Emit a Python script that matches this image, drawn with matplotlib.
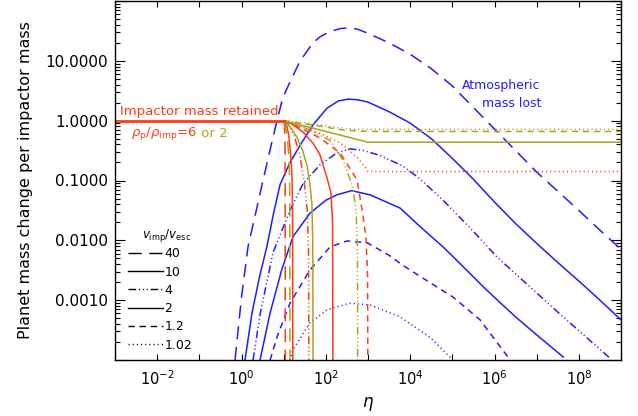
import numpy as np
import matplotlib
matplotlib.use("Agg")
import matplotlib.pyplot as plt
from matplotlib.lines import Line2D
from matplotlib.ticker import FixedLocator, FuncFormatter, LogLocator, NullLocator

plt.rcParams["lines.scale_dashes"] = False

BLUE = "#1e1eff"
RED = "#ff3a14"
OLIVE = "#a9a41e"

# impact velocity in units of escape velocity, one line style each
v_ratio = ["40", "10", "4", "2", "1.2", "1.02"]
styles = [(0, (9.5, 5.5)), "-", (0, (5.5, 2, 0.8, 2, 0.8, 2, 0.8, 2)), "-",
          (0, (4.5, 3.5)), (0, (0.8, 2.2))]

# atmospheric mass lost per impactor mass (blue), as log10(eta), log10(value)
atm_logeta = [
    [-0.154, 0.0, 0.154, 0.35, 0.51, 0.68, 0.842, 0.984, 1.2, 1.39, 1.695, 1.86, 2.1,
     2.35, 2.525, 2.75, 3.0, 3.25, 3.5, 4.0, 4.5, 5.0, 5.5, 6.0, 6.5, 7.0, 7.5, 8.0,
     8.5, 9.0],
    [0.083, 0.25, 0.43, 0.60, 0.76, 0.913, 1.15, 1.39, 1.695, 2.03, 2.3, 2.525, 2.75,
     3.0, 3.5, 4.0, 4.5, 5.0, 5.5, 6.0, 6.5, 7.0, 7.5, 8.0, 8.5, 9.0],
    [0.273, 0.45, 0.75, 1.15, 1.46, 1.86, 2.26, 2.57, 2.9, 3.28, 3.83, 4.23, 4.78,
     5.5, 6.06, 6.5, 7.0, 7.55, 8.0, 8.74],
    [0.44, 0.676, 0.95, 1.22, 1.62, 2.0, 2.26, 2.61, 3.05, 3.76, 4.25, 4.78, 5.27,
     5.74, 6.07, 6.5, 7.0, 7.63],
    [0.68, 0.85, 1.15, 1.62, 2.10, 2.50, 2.98, 3.5, 3.83, 4.5, 5.02, 5.66, 6.37],
    [1.15, 1.22, 1.62, 2.03, 2.57, 3.05, 3.76, 4.47, 4.94, 5.0],
]
atm_logval = [
    [-4.0, -2.95, -2.11, -1.5, -1.0, -0.48, 0.0, 0.395, 0.72, 1.0, 1.30, 1.40, 1.49,
     1.54, 1.55, 1.53, 1.46, 1.38, 1.30, 1.11, 0.87, 0.58, 0.22, -0.14, -0.5, -0.86,
     -1.18, -1.5, -1.83, -2.15],
    [-4.0, -3.21, -2.6, -2.11, -1.55, -1.07, -0.7, -0.41, -0.07, 0.21, 0.33, 0.36,
     0.35, 0.31, 0.15, -0.04, -0.3, -0.63, -0.98, -1.36, -1.72, -2.05, -2.37, -2.68,
     -3.0, -3.33],
    [-4.0, -3.2, -2.2, -1.5, -1.05, -0.74, -0.54, -0.47, -0.5, -0.58, -0.76, -0.97,
     -1.33, -1.85, -2.28, -2.56, -2.88, -3.23, -3.51, -3.97],
    [-4.0, -3.22, -2.5, -1.94, -1.55, -1.33, -1.24, -1.17, -1.24, -1.46, -1.78, -2.11,
     -2.45, -2.78, -3.0, -3.28, -3.58, -3.95],
    [-4.0, -3.6, -3.05, -2.50, -2.11, -2.01, -2.04, -2.25, -2.42, -2.72, -2.95, -3.33,
     -4.0],
    [-4.0, -3.83, -3.38, -3.16, -3.05, -3.08, -3.28, -3.62, -3.95, -4.0],
]

# impactor mass retained up to the junction at eta = 10
retained_eta = [1e-3, 10]
retained_val = [1.0, 1.0]

# impactor mass retained beyond the junction, rho_p/rho_imp = 6 (red)
red_logeta = [
    [1.0, 1.02, 1.03, 1.035, 1.04],
    [1.0, 1.08, 1.12, 1.15, 1.18, 1.2, 1.21, 1.22],
    [1.0, 1.1, 1.25, 1.39, 1.5, 1.56, 1.59, 1.6],
    [1.0, 1.2, 1.46, 1.7, 1.86, 2.03, 2.12, 2.16, 2.17],
    [1.0, 1.4, 1.86, 2.34, 2.74, 2.86, 2.95, 2.99, 3.0],
    [1.0, 1.4, 1.86, 2.34, 2.74, 2.98, 3.0, 9.0],
]
red_logval = [
    [0.0, -0.08, -0.3, -1.0, -5.0],
    [0.0, -0.1, -0.25, -0.46, -0.7, -0.99, -1.5, -5.0],
    [0.0, -0.05, -0.25, -0.6, -1.1, -1.5, -2.2, -5.0],
    [0.0, -0.06, -0.19, -0.38, -0.57, -0.96, -1.2, -1.7, -5.0],
    [0.0, -0.12, -0.29, -0.54, -0.99, -1.49, -1.94, -2.6, -5.0],
    [0.0, -0.1, -0.21, -0.37, -0.61, -0.82, -0.85, -0.85],
]

# impactor mass retained beyond the junction, rho_p/rho_imp = 2 (olive)
olive_logeta = [
    [1.0, 1.08, 1.13, 1.145, 1.15],
    [1.0, 1.15, 1.32, 1.45, 1.55, 1.62, 1.67, 1.69, 1.70],
    [1.0, 1.5, 2.10, 2.41, 2.64, 2.72, 2.75, 2.76],
    [1.0, 3.0, 9.0],
    [1.0, 1.86, 2.34, 2.8, 3.0, 9.0],
    [1.0, 1.86, 2.34, 2.7, 9.0],
]
olive_logval = [
    [0.0, -0.22, -0.66, -1.2, -5.0],
    [0.0, -0.1, -0.28, -0.5, -0.74, -1.04, -1.4, -2.0, -5.0],
    [0.0, -0.12, -0.33, -0.66, -1.11, -1.54, -2.2, -5.0],
    [0.0, -0.36, -0.36],
    [0.0, -0.09, -0.15, -0.175, -0.18, -0.18],
    [0.0, -0.07, -0.12, -0.145, -0.145],
]

fig = plt.figure(figsize=(6.38, 4.16), dpi=100)
ax = fig.add_axes([115 / 638, 56 / 416, 506 / 638, 359 / 416])
ax.set_xscale("log")
ax.set_yscale("log")


def draw(logeta, logval, color):
    for le, lv, ls in zip(logeta, logval, styles):
        ax.plot(np.power(10.0, le), np.power(10.0, lv), color=color, ls=ls, lw=1.1)


draw(atm_logeta, atm_logval, BLUE)
draw(red_logeta, red_logval, RED)
draw(olive_logeta, olive_logval, OLIVE)
ax.plot(retained_eta, retained_val, color=RED, lw=2.0)

ax.set_xlim(1e-3, 1e9)
ax.set_ylim(1e-4, 100)

ax.xaxis.set_major_locator(FixedLocator(10.0 ** np.arange(-3, 10)))
ax.xaxis.set_minor_locator(NullLocator())


def xfmt(v, _):
    e = int(round(np.log10(v)))
    return f"$10^{{{e}}}$" if e % 2 == 0 and -2 <= e <= 8 else ""


def yfmt(v, _):
    e = int(round(np.log10(v)))
    return f"{v:.4f}" if -3 <= e <= 1 else ""


ax.xaxis.set_major_formatter(FuncFormatter(xfmt))
ax.yaxis.set_major_locator(FixedLocator(10.0 ** np.arange(-4, 3)))
ax.yaxis.set_minor_locator(LogLocator(base=10, subs=np.arange(2, 10)))
ax.yaxis.set_major_formatter(FuncFormatter(yfmt))

ax.tick_params(which="both", direction="in", top=True, right=True, width=0.8)
ax.tick_params(axis="x", which="major", length=4.5, labelsize=10.5, pad=7)
ax.tick_params(axis="y", which="major", length=7.5, labelsize=11, pad=5)
ax.tick_params(axis="y", which="minor", length=3.8)
for sp in ax.spines.values():
    sp.set_linewidth(1.0)

ax.set_xlabel(r"$\eta$", fontsize=12, labelpad=5)
ax.set_ylabel("Planet mass change per impactor mass", fontsize=11.5, labelpad=9)

ax.text(1.3e-3, 1.09, "Impactor mass retained", color=RED, fontsize=9.5,
        ha="left", va="bottom")
t1 = ax.text(2.4e-3, 0.6, r"$\rho_{\rm p}/\rho_{\rm imp}$=6", color=RED,
             fontsize=9.5, ha="left", va="center")
ax.annotate(" or 2", xy=(1, 0.5), xycoords=t1, color=OLIVE, fontsize=9.5,
            ha="left", va="center")
ax.text(1.2e7, 3.8, "Atmospheric", color=BLUE, fontsize=9, ha="right", va="center")
ax.text(1.3e7, 1.9, "mass lost", color=BLUE, fontsize=9, ha="right", va="center")

# legend for the velocity ratios, with its heading set apart
ax.text(0.102, 0.347, r"$v_{\rm imp}/v_{\rm esc}$", transform=ax.transAxes,
        fontsize=8.5, ha="center", va="center")
handles = [Line2D([], [], color="k", ls=ls, lw=1.0) for ls in styles]
ax.legend(handles, v_ratio, loc="upper left",
          bbox_to_anchor=(0.026, 0.314), frameon=False, fontsize=9,
          handlelength=2.8, handletextpad=0.1,
          labelspacing=0.42, borderpad=0, borderaxespad=0)

fig.savefig("out.png", dpi=100)
